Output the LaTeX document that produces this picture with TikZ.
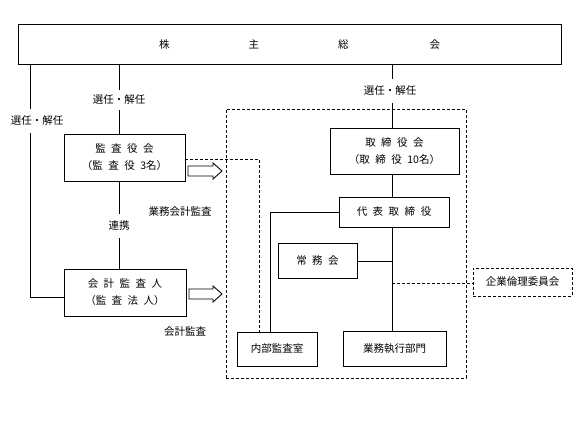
\documentclass[tikz,border=0pt]{standalone}
\usepackage{fontspec}
\setmainfont{Noto Sans CJK JP}
\newcommand\gp{\hspace{5.5pt}}
\tikzset{
  box/.style={draw, line width=0.9pt, rectangle, inner sep=0pt, align=center, font=\fontsize{10.5}{17}\selectfont},
  lbl/.style={fill=white, inner xsep=1pt, font=\fontsize{10.5}{12}\selectfont},
  ln/.style={line width=0.9pt},
  dsh/.style={line width=0.9pt, dash pattern=on 3pt off 2pt},
  hollow/.style={draw, line width=0.9pt, fill=white}
}
\begin{document}
\begin{tikzpicture}[x=1pt,y=-1pt]
\useasboundingbox (0,0) rectangle (584,432);
% big dashed box
\node[draw, dsh, minimum width=240pt, minimum height=269pt, inner sep=0pt] (big) at (346,243.5) {};
% boxes
\node[box, minimum width=543pt, minimum height=40pt] (top) at (289.5,44) {};
\node[font=\fontsize{10.5}{12}\selectfont] (toptext) at (299.5,45) {株\hspace{79pt}主\hspace{79pt}総\hspace{81pt}会};
\node[box, minimum width=121pt, minimum height=47pt] (kansa) at (124.5,157.5) {監\gp 査\gp 役\gp 会\\（監\gp 査\gp 役\gp 3名）};
\node[box, minimum width=122pt, minimum height=47pt] (kaikei) at (125,292.5) {会\gp 計\gp 監\gp 査\gp 人\\（監\gp 査\gp 法\gp 人）};
\node[box, minimum width=129pt, minimum height=46pt] (tori) at (394.5,151) {取\gp 締\gp 役\gp 会\\（取\gp 締\gp 役\gp 10名）};
\node[box, minimum width=110pt, minimum height=30pt] (daihyo) at (394,212) {代\gp 表\gp 取\gp 締\gp 役};
\node[box, minimum width=79pt, minimum height=35pt] (jomu) at (317.5,260.5) {常\gp 務\gp 会};
\node[box, minimum width=80pt, minimum height=34pt] (naibu) at (277,349) {内部監査室};
\node[box, minimum width=103pt, minimum height=35pt] (gyomu) at (394.5,348.5) {業務執行部門};
\node[box, dsh, minimum width=99pt, minimum height=28pt] (rinri) at (522.5,282) {企業倫理委員会};
% coordinates for line x positions
\coordinate (xa) at (30,0);
\coordinate (xb) at (119,0);
\coordinate (xc) at (392,0);
\coordinate (xd) at (259,0);
\coordinate (xe) at (270,0);
\coordinate (yr) at (0,283);
% connectors
\draw[ln] (top.south -| xa) |- (kaikei.west |- 0,297);
\draw[ln] (top.south -| xb) -- (kansa.north -| xb);
\draw[ln] (kansa.south -| xb) -- (kaikei.north -| xb);
\draw[ln] (top.south -| xc) -- (tori.north -| xc);
\draw[ln] (tori.south -| xc) -- (daihyo.north -| xc);
\draw[ln] (daihyo.south -| xc) -- (gyomu.north -| xc);
\draw[ln] (jomu.east |- 0,261) -- (xc |- 0,261);
\draw[ln] (naibu.north -| xe) |- (daihyo.west);
\draw[dsh] (kansa.east |- 0,159) -| (naibu.north -| xd);
\draw[dsh] (xc |- yr) -- (rinri.west |- yr);
% labels
\node[lbl, inner ysep=7pt] (l1) at (37,121) {選任・解任};
\node[lbl, inner ysep=5pt] (l2) at (119,100) {選任・解任};
\node[lbl, inner ysep=7pt] (l3) at (390,91) {選任・解任};
\node[lbl, inner ysep=7pt] (l4) at (119,226) {連携};
\node[font=\fontsize{10.5}{12}\selectfont] (l5) at (180,212) {業務会計監査};
\node[font=\fontsize{10.5}{12}\selectfont] (l6) at (185,332) {会計監査};
% hollow arrows
\coordinate (a1) at (188,171);
\coordinate (a2) at (189,294);
\draw[hollow] (a1) ++(0,-5) -- ++(25,0) -- ++(0,-3) -- ++(9,8) -- ++(-9,8) -- ++(0,-3) -- ++(-25,0) -- cycle;
\draw[hollow] (a2) ++(0,-5) -- ++(24,0) -- ++(0,-3) -- ++(9,8) -- ++(-9,8) -- ++(0,-3) -- ++(-24,0) -- cycle;
\end{tikzpicture}
\end{document}
